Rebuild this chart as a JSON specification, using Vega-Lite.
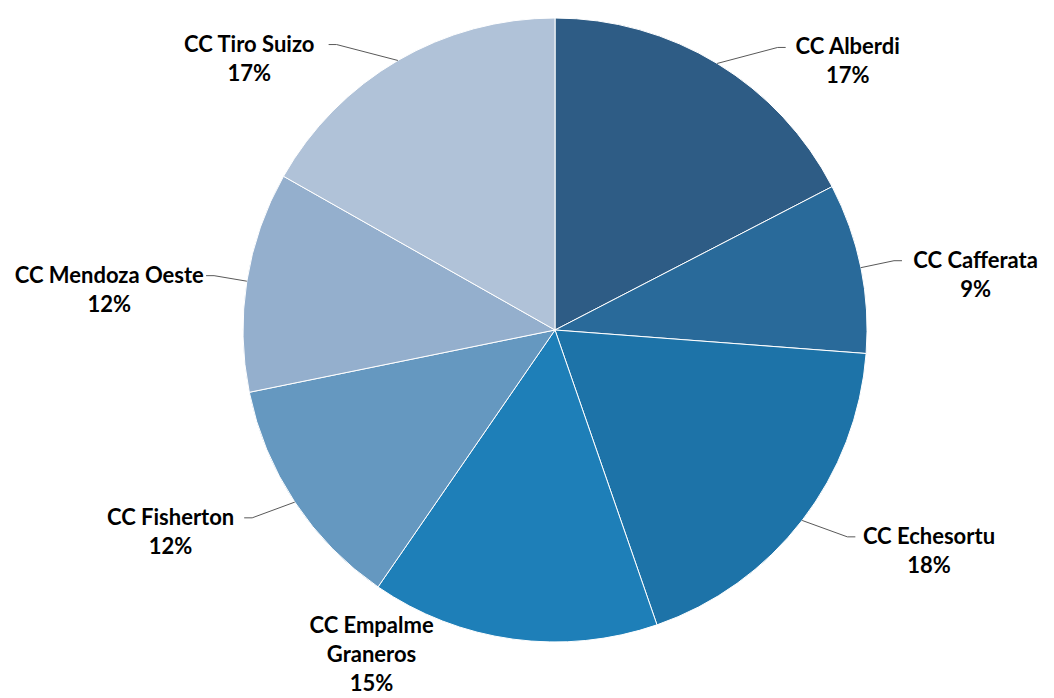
{
  "$schema": "https://vega.github.io/schema/vega-lite/v6.json",
  "autosize": {"type": "none"},
  "width": 998,
  "height": 660,
  "padding": {"left": 56, "top": 0, "right": 0, "bottom": 38},
  "background": "white",
  "config": {"view": {"stroke": null}},
  "data": {
    "values": [
      {"name": "CC Alberdi", "value": 17.4, "label": "CC Alberdi\n17%"},
      {"name": "CC Cafferata", "value": 8.8, "label": "CC Cafferata\n9%"},
      {"name": "CC Echesortu", "value": 18.5, "label": "CC Echesortu\n18%"},
      {"name": "CC Empalme Graneros", "value": 14.9, "label": "CC Empalme\nGraneros\n15%"},
      {"name": "CC Fisherton", "value": 12.2, "label": "CC Fisherton\n12%"},
      {"name": "CC Mendoza Oeste", "value": 11.4, "label": "CC Mendoza Oeste\n12%"},
      {"name": "CC Tiro Suizo", "value": 16.8, "label": "CC Tiro Suizo\n17%"}
    ]
  },
  "layer": [
    {
      "mark": {"type": "arc", "outerRadius": 312, "stroke": "white", "strokeWidth": 1},
      "encoding": {
        "theta": {"field": "value", "type": "quantitative", "stack": true},
        "color": {
          "field": "name",
          "type": "nominal",
          "scale": {
            "domain": ["CC Alberdi", "CC Cafferata", "CC Echesortu", "CC Empalme Graneros", "CC Fisherton", "CC Mendoza Oeste", "CC Tiro Suizo"],
            "range": ["#2E5C85", "#296A9A", "#1D73A8", "#1E7FB8", "#6598C0", "#94AFCD", "#B0C2D8"]
          },
          "legend": null
        }
      }
    },
    {
      "transform": [
        {"stack": "value", "groupby": [], "sort": [{"field": "name", "order": "ascending"}], "as": ["s0", "s1"]},
        {"filter": "length(split(datum.label, '\\n')) == 2"}
      ],
      "mark": {"type": "rule", "color": "#595959", "strokeWidth": 1},
      "encoding": {
        "x": {"value": {"expr": "width / 2 + 312 * sin((datum.s0 + datum.s1) * PI / 100)"}},
        "y": {"value": {"expr": "height / 2 - 312 * cos((datum.s0 + datum.s1) * PI / 100)"}},
        "x2": {"value": {"expr": "width / 2 + 113100 / sqrt(pow(325 * sin((datum.s0 + datum.s1) * PI / 100), 2) + pow(348 * cos((datum.s0 + datum.s1) * PI / 100), 2)) * sin((datum.s0 + datum.s1) * PI / 100) + ((datum.s0 + datum.s1) < 100 ? 1 : -1) * (75 * pow(cos((datum.s0 + datum.s1) * PI / 100), 2) - 4)"}},
        "y2": {"value": {"expr": "height / 2 - 113100 / sqrt(pow(325 * sin((datum.s0 + datum.s1) * PI / 100), 2) + pow(348 * cos((datum.s0 + datum.s1) * PI / 100), 2)) * cos((datum.s0 + datum.s1) * PI / 100)"}}
      }
    },
    {
      "transform": [
        {"stack": "value", "groupby": [], "sort": [{"field": "name", "order": "ascending"}], "as": ["s0", "s1"]},
        {"filter": "length(split(datum.label, '\\n')) == 2"}
      ],
      "mark": {"type": "rule", "color": "#595959", "strokeWidth": 1},
      "encoding": {
        "x": {"value": {"expr": "width / 2 + 113100 / sqrt(pow(325 * sin((datum.s0 + datum.s1) * PI / 100), 2) + pow(348 * cos((datum.s0 + datum.s1) * PI / 100), 2)) * sin((datum.s0 + datum.s1) * PI / 100) + ((datum.s0 + datum.s1) < 100 ? 1 : -1) * (75 * pow(cos((datum.s0 + datum.s1) * PI / 100), 2) - 4)"}},
        "y": {"value": {"expr": "height / 2 - 113100 / sqrt(pow(325 * sin((datum.s0 + datum.s1) * PI / 100), 2) + pow(348 * cos((datum.s0 + datum.s1) * PI / 100), 2)) * cos((datum.s0 + datum.s1) * PI / 100)"}},
        "x2": {"value": {"expr": "width / 2 + 113100 / sqrt(pow(325 * sin((datum.s0 + datum.s1) * PI / 100), 2) + pow(348 * cos((datum.s0 + datum.s1) * PI / 100), 2)) * sin((datum.s0 + datum.s1) * PI / 100) + ((datum.s0 + datum.s1) < 100 ? 1 : -1) * (75 * pow(cos((datum.s0 + datum.s1) * PI / 100), 2) + 4)"}},
        "y2": {"value": {"expr": "height / 2 - 113100 / sqrt(pow(325 * sin((datum.s0 + datum.s1) * PI / 100), 2) + pow(348 * cos((datum.s0 + datum.s1) * PI / 100), 2)) * cos((datum.s0 + datum.s1) * PI / 100)"}}
      }
    },
    {
      "mark": {
        "type": "text",
        "radius": {"expr": "113100 / sqrt(pow(325 * sin((datum.value_start + datum.value_end) * PI / 100), 2) + pow(348 * cos((datum.value_start + datum.value_end) * PI / 100), 2))"},
        "dx": {"expr": "((datum.value_start + datum.value_end) / 200 > 0.02 && (datum.value_start + datum.value_end) / 200 < 0.49 ? 1 : ((datum.value_start + datum.value_end) / 200 > 0.51 && (datum.value_start + datum.value_end) / 200 < 0.98 ? -1 : 0)) * (5.8 * indexof(datum.label, '\\n') + 8 + 75 * pow(cos((datum.value_start + datum.value_end) * PI / 100), 2))"},
        "dy": {"expr": "(2 - length(split(datum.label, '\\n'))) * 26"},
        "font": "Lato",
        "fontWeight": "bold",
        "fontSize": 22,
        "lineBreak": "\n",
        "lineHeight": 29,
        "align": "center",
        "baseline": "middle",
        "color": "#000000"
      },
      "encoding": {
        "theta": {"field": "value", "type": "quantitative", "stack": true},
        "detail": {"field": "name", "type": "nominal"},
        "text": {"field": "label", "type": "nominal"}
      }
    }
  ]
}
